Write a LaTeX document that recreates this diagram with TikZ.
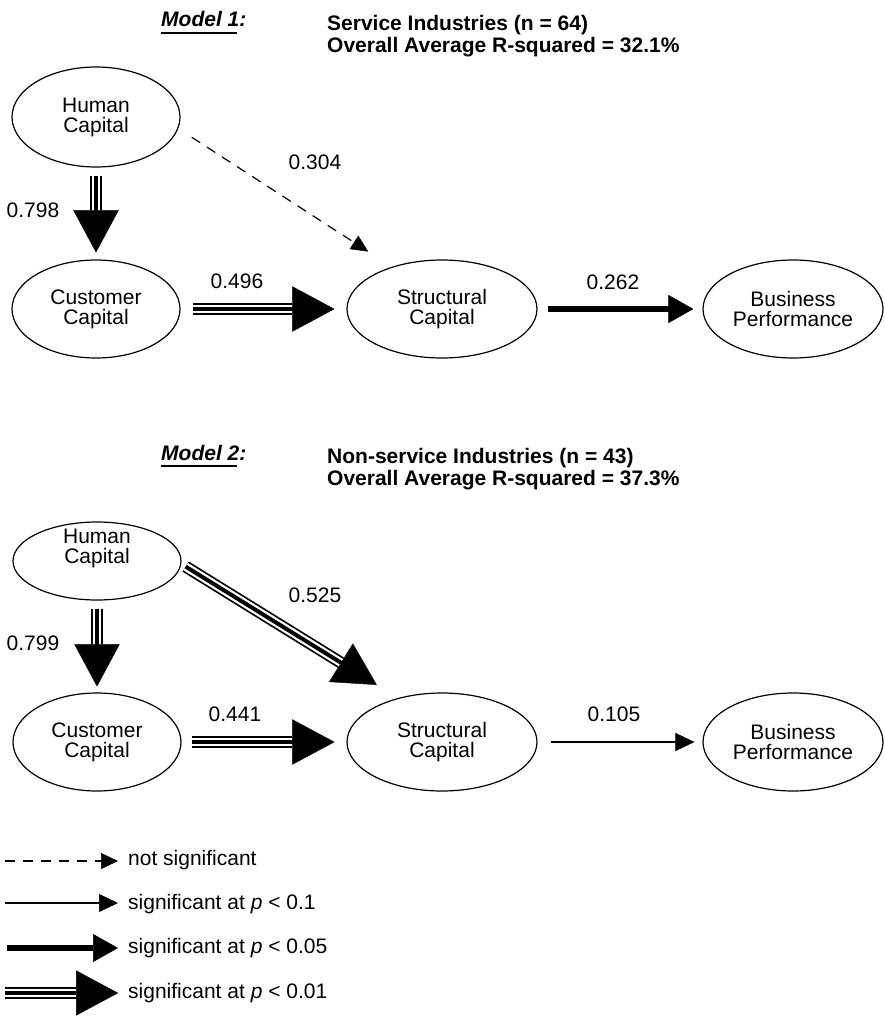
\documentclass[tikz,border=0pt]{standalone}
\usepackage{fontspec}
\setmainfont{Liberation Sans}
\usetikzlibrary{arrows.meta,shapes.geometric,calc}
\tikzset{
  var/.style={ellipse,draw,line width=1.2pt,inner sep=0pt,align=center,
              font=\fontsize{21}{20}\selectfont},
  coef/.style={inner sep=0pt,font=\fontsize{21}{24}\selectfont},
  modelhead/.style={inner sep=0pt,font=\fontsize{21}{24}\selectfont\bfseries\itshape},
  head/.style={inner sep=0pt,align=left,font=\fontsize{21}{22}\selectfont\bfseries},
  legtext/.style={anchor=west,inner sep=0pt,text height=15pt,text depth=4pt,
                  font=\fontsize{21}{24}\selectfont},
  uline/.style={line width=1.8pt},
  nsig/.style={-{Triangle[length=17pt,width=16pt,line width=0.5pt]},line width=1.2pt,
               dash pattern=on 10pt off 8pt},
  sigten/.style={-{Triangle[length=19pt,width=18pt,line width=0.5pt]},line width=1.5pt},
  sigfive/.style={-{Triangle[length=25pt,width=28pt,line width=0.5pt]},line width=6.5pt},
  bigtip/.style={-{Triangle[length=42pt,width=45pt,line width=0.5pt]}},
  sigone/.style={bigtip,line width=4pt,
                 preaction={draw,bigtip,line width=12pt},
                 preaction={draw,bigtip,white,line width=8.5pt}},
}
\begin{document}
\begin{tikzpicture}[x=1pt,y=-1pt]
  \useasboundingbox (0,0) rectangle (884,1016);

  % Model 1
  \node[modelhead,anchor=base west] (mod1) at (161,27) {Model 1:};
  \draw[uline] ($(mod1.base west)+(0,6)$) -- ++(76,0);
  \node[head,anchor=north west] (hd1) at (327,15)
    {Service Industries (n = 64)\\Overall Average R-squared = 32.1\%};

  \node[var,minimum width=168pt,minimum height=100pt] (hc1) at (96,117) {Human\\Capital};
  \node[var,minimum width=168pt,minimum height=98pt] (cc1) at (96,309) {Customer\\Capital};
  \node[var,minimum width=190pt,minimum height=98pt] (sc1) at (442,309) {Structural\\Capital};
  \node[var,minimum width=180pt,minimum height=98pt] (bp1) at (793,309) {Business\\Performance};

  \draw[sigone,shorten <=8pt,shorten >=7pt] (hc1) -- (cc1);
  \draw[nsig,shorten <=16pt,shorten >=28pt] (hc1.-8) -- (sc1.140);
  \draw[sigone,shorten <=12pt,shorten >=12pt] (cc1) -- (sc1);
  \draw[sigfive,shorten <=10pt,shorten >=9pt] (sc1) -- (bp1);

  \node[coef] (c798) at (33,210) {0.798};
  \node[coef] (c304) at (315,162) {0.304};
  \node[coef] (c496) at (237,281) {0.496};
  \node[coef] (c262) at (613,282) {0.262};

  % Model 2
  \node[modelhead,anchor=base west] (mod2) at (161,460) {Model 2:};
  \draw[uline] ($(mod2.base west)+(0,6)$) -- ++(76,0);
  \node[head,anchor=north west] (hd2) at (327,448)
    {Non-service Industries (n = 43)\\Overall Average R-squared = 37.3\%};

  \node[var,minimum width=168pt,minimum height=78pt,
        label={[var,draw=none,yshift=13pt]center:{Human\\Capital}}] (hc2) at (97,561) {};
  \node[var,minimum width=168pt,minimum height=98pt] (cc2) at (97,742) {Customer\\Capital};
  \node[var,minimum width=190pt,minimum height=98pt] (sc2) at (442,742) {Structural\\Capital};
  \node[var,minimum width=180pt,minimum height=98pt] (bp2) at (793,742) {Business\\Performance};

  \draw[sigone,shorten <=8pt,shorten >=6pt] (hc2) -- (cc2);
  \draw[sigone,shorten <=5pt,shorten >=25pt] (hc2.-2) -- (sc2.135);
  \draw[sigone,shorten <=10pt,shorten >=12pt] (cc2) -- (sc2);
  \draw[sigten,shorten <=13pt,shorten >=8pt] (sc2) -- (bp2);

  \node[coef] (c799) at (33,643) {0.799};
  \node[coef] (c525) at (315,595) {0.525};
  \node[coef] (c441) at (235,714) {0.441};
  \node[coef] (c105) at (614,714) {0.105};

  % legend
  \coordinate (ns0) at (5,861);   \coordinate (ns1) at (118,861);
  \coordinate (st0) at (5,903);   \coordinate (st1) at (118,903);
  \coordinate (sf0) at (7,948);   \coordinate (sf1) at (118,948);
  \coordinate (so0) at (5,993);   \coordinate (so1) at (118,993);
  \draw[nsig] (ns0) -- (ns1);
  \draw[sigten] (st0) -- (st1);
  \draw[sigfive] (sf0) -- (sf1);
  \draw[sigone] (so0) -- (so1);
  \node[legtext] (nsl) at (128,860) {not significant};
  \node[legtext] (stl) at (128,904) {significant at \textit{p} < 0.1};
  \node[legtext] (sfl) at (128,948) {significant at \textit{p} < 0.05};
  \node[legtext] (sol) at (128,993) {significant at \textit{p} < 0.01};
\end{tikzpicture}
\end{document}
